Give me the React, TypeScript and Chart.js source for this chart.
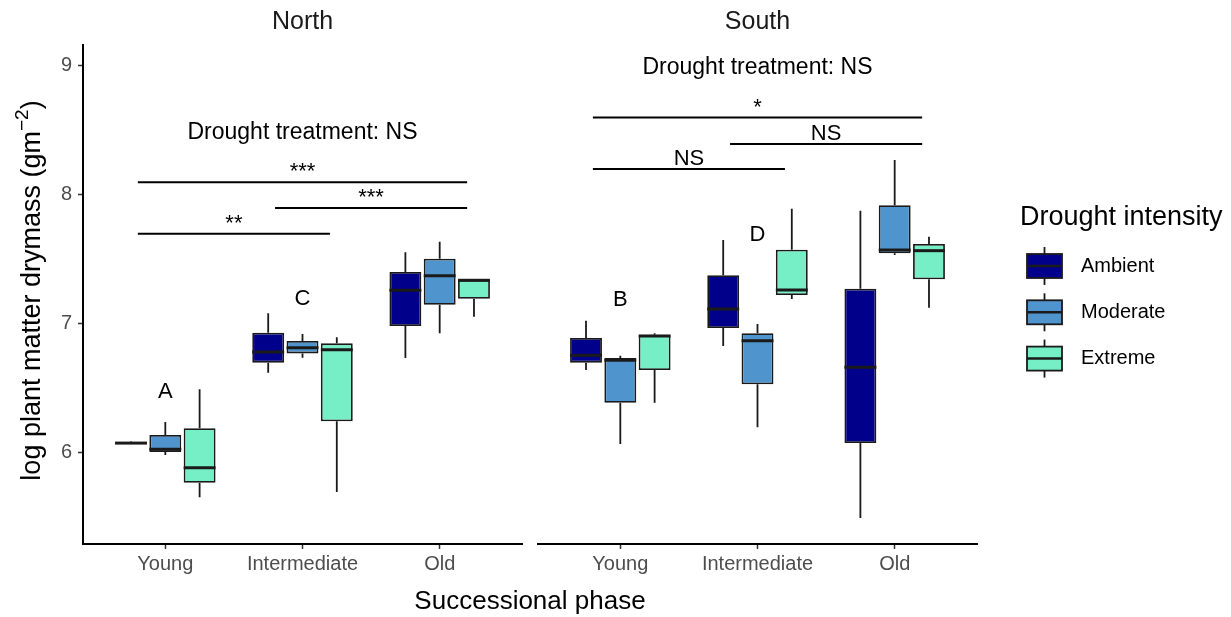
import React, { useEffect, useRef } from 'react';
import { Chart, registerables } from 'chart.js';

Chart.register(...registerables);

const FONT = '"Liberation Sans", Arial, Helvetica, sans-serif';

// ---------------- data ----------------
const categories = ['Young', 'Intermediate', 'Old'];
const intensities = ['Ambient', 'Moderate', 'Extreme'];
const intensityColors = ['#00008B', '#4F94CD', '#76EEC6'];

// each entry: [lower whisker, Q1, median, Q3, upper whisker] for Young, Intermediate, Old
const northAmbient = [
  [6.063, 6.065, 6.07, 6.075, 6.082],
  [6.617, 6.695, 6.778, 6.928, 7.078],
  [6.731, 6.98, 7.257, 7.399, 7.552],
];
const northModerate = [
  [5.977, 6.0, 6.022, 6.133, 6.234],
  [6.734, 6.767, 6.811, 6.863, 6.918],
  [6.923, 7.145, 7.371, 7.503, 7.635],
];
const northExtreme = [
  [5.649, 5.762, 5.879, 6.185, 6.488],
  [5.69, 6.239, 6.796, 6.845, 6.892],
  [7.052, 7.192, 7.335, 7.337, 7.337],
];
const southAmbient = [
  [6.638, 6.695, 6.752, 6.887, 7.021],
  [6.824, 6.964, 7.112, 7.374, 7.648],
  [5.488, 6.071, 6.659, 7.27, 7.876],
];
const southModerate = [
  [6.063, 6.384, 6.713, 6.731, 6.749],
  [6.193, 6.527, 6.866, 6.923, 6.995],
  [7.531, 7.545, 7.57, 7.918, 8.27],
];
const southExtreme = [
  [6.384, 6.638, 6.902, 6.912, 6.923],
  [7.19, 7.221, 7.26, 7.573, 7.891],
  [7.122, 7.343, 7.565, 7.617, 7.674],
];

const yTicks = [6, 7, 8, 9];
const yMin = 5.286;
const yMax = 9.163;

// significance brackets: [from category, to category, y value, label]
const northBrackets: [number, number, number, string][] = [
  [1, 3, 8.096, '***'],
  [2, 3, 7.897, '***'],
  [1, 2, 7.697, '**'],
];
const southBrackets: [number, number, number, string][] = [
  [1, 3, 8.599, '*'],
  [2, 3, 8.394, 'NS'],
  [1, 2, 8.2, 'NS'],
];
// group letters: [category, y value, letter]
const northLetters: [number, number, string][] = [
  [1, 6.467, 'A'],
  [2, 7.19, 'C'],
];
const southLetters: [number, number, string][] = [
  [1, 7.18, 'B'],
  [2, 7.687, 'D'],
];
// "Drought treatment: NS" labels: [category, y value, text]
const northTreatment: [number, number, string] = [2, 8.485, 'Drought treatment: NS'];
const southTreatment: [number, number, string] = [2, 8.984, 'Drought treatment: NS'];

const facetNames = ['North', 'South'];
const xTitle = 'Successional phase';
const yTitleMain = 'log plant matter drymass (gm';
const yTitleSup = '\u22122';
const legendTitle = 'Drought intensity';

// ---------------- chart building ----------------
const EDGE = '#1a1a1a';

function buildConfig(
  facet: number,
  series: number[][][],
  brackets: [number, number, number, string][],
  letters: [number, number, string][],
  treatment: [number, number, string]
): any {
  const isNorth = facet === 0;
  const datasets = series.map((s, di) => ({
    label: intensities[di],
    data: s.map((q, i) => ({ x: i + 1, y: [q[1], q[3]] })),
    backgroundColor: intensityColors[di],
    borderColor: EDGE,
    borderWidth: 1.8,
    borderSkipped: false,
    categoryPercentage: 0.75,
    barPercentage: 0.93,
  }));

  const plugin = {
    id: 'boxplotExtras' + facet,
    beforeDatasetsDraw(chart: any) {
      const ctx = chart.ctx;
      const ys = chart.scales.y;
      ctx.save();
      ctx.strokeStyle = EDGE;
      ctx.lineWidth = 1.8;
      series.forEach((s, di) => {
        const meta = chart.getDatasetMeta(di);
        meta.data.forEach((el: any, i: number) => {
          const [lo, q1, , q3, hi] = s[i];
          ctx.beginPath();
          ctx.moveTo(el.x, ys.getPixelForValue(lo));
          ctx.lineTo(el.x, ys.getPixelForValue(q1));
          ctx.moveTo(el.x, ys.getPixelForValue(q3));
          ctx.lineTo(el.x, ys.getPixelForValue(hi));
          ctx.stroke();
        });
      });
      ctx.restore();
    },
    afterDatasetsDraw(chart: any) {
      const ctx = chart.ctx;
      const ys = chart.scales.y;
      ctx.save();
      ctx.strokeStyle = EDGE;
      ctx.lineWidth = 3;
      series.forEach((s, di) => {
        const meta = chart.getDatasetMeta(di);
        meta.data.forEach((el: any, i: number) => {
          const m = ys.getPixelForValue(s[i][2]);
          ctx.beginPath();
          ctx.moveTo(el.x - el.width / 2, m);
          ctx.lineTo(el.x + el.width / 2, m);
          ctx.stroke();
        });
      });
      ctx.restore();
    },
    afterDraw(chart: any) {
      const ctx = chart.ctx;
      const xs = chart.scales.x;
      const ys = chart.scales.y;
      const area = chart.chartArea;
      ctx.save();
      ctx.fillStyle = '#000';
      ctx.textAlign = 'center';

      // facet title
      ctx.font = `25px ${FONT}`;
      ctx.fillStyle = '#1a1a1a';
      ctx.textBaseline = 'middle';
      ctx.fillText(facetNames[facet], (area.left + area.right) / 2, 22);

      // treatment label
      ctx.fillStyle = '#000';
      ctx.font = `23px ${FONT}`;
      ctx.fillText(treatment[2], xs.getPixelForValue(treatment[0]), ys.getPixelForValue(treatment[1]));

      // letters
      ctx.font = `22px ${FONT}`;
      letters.forEach(([c, v, t]) => {
        ctx.fillText(t, xs.getPixelForValue(c), ys.getPixelForValue(v));
      });

      // brackets
      ctx.strokeStyle = '#000';
      ctx.lineWidth = 2;
      ctx.textBaseline = 'alphabetic';
      brackets.forEach(([a, b, v, t]) => {
        const x1 = xs.getPixelForValue(a - 0.2);
        const x2 = xs.getPixelForValue(b + 0.2);
        const py = ys.getPixelForValue(v);
        ctx.beginPath();
        ctx.moveTo(x1, py);
        ctx.lineTo(x2, py);
        ctx.stroke();
        ctx.font = `22px ${FONT}`;
        ctx.fillText(t, (x1 + x2) / 2, py - 4);
      });

      if (isNorth) {
        // x-axis title across both facets
        ctx.font = `26px ${FONT}`;
        ctx.textBaseline = 'middle';
        ctx.fillText(xTitle, 530, 602);

        // y-axis title with superscript
        const cy = (area.top + area.bottom) / 2 - 4;
        ctx.translate(33, cy);
        ctx.rotate(-Math.PI / 2);
        ctx.font = `27px ${FONT}`;
        const w1 = ctx.measureText(yTitleMain).width;
        const w3 = ctx.measureText(')').width;
        ctx.font = `19px ${FONT}`;
        const w2 = ctx.measureText(yTitleSup).width;
        let x0 = -(w1 + w2 + w3) / 2;
        ctx.textAlign = 'left';
        ctx.textBaseline = 'middle';
        ctx.font = `27px ${FONT}`;
        ctx.fillText(yTitleMain, x0, 0);
        x0 += w1;
        ctx.font = `19px ${FONT}`;
        ctx.fillText(yTitleSup, x0, -10);
        x0 += w2;
        ctx.font = `27px ${FONT}`;
        ctx.fillText(')', x0, 0);
      } else {
        // legend
        ctx.textAlign = 'left';
        ctx.textBaseline = 'middle';
        ctx.font = `27px ${FONT}`;
        ctx.fillText(legendTitle, 1020, 218);
        intensities.forEach((name, i) => {
          const cy = 266 + i * 46.3;
          const left = 1027;
          const w = 35;
          const h = 24;
          const cx = left + w / 2;
          ctx.strokeStyle = EDGE;
          ctx.lineWidth = 1.8;
          ctx.beginPath();
          ctx.moveTo(cx, cy - h / 2 - 7);
          ctx.lineTo(cx, cy + h / 2 + 7);
          ctx.stroke();
          ctx.fillStyle = intensityColors[i];
          ctx.fillRect(left, cy - h / 2, w, h);
          ctx.lineWidth = 1.8;
          ctx.strokeRect(left, cy - h / 2, w, h);
          ctx.lineWidth = 2.5;
          ctx.beginPath();
          ctx.moveTo(left, cy);
          ctx.lineTo(left + w, cy);
          ctx.stroke();
          ctx.fillStyle = '#000';
          ctx.font = `20px ${FONT}`;
          ctx.fillText(name, 1081, cy);
        });
      }
      ctx.restore();
    },
  };

  const padding = isNorth
    ? { left: 0, top: 45, right: 1231 - 522, bottom: 0 }
    : { left: 538, top: 45, right: 1231 - 977, bottom: 0 };

  return {
    type: 'bar',
    data: { datasets },
    plugins: [plugin],
    options: {
      responsive: false,
      animation: false,
      events: [],
      devicePixelRatio: 1,
      layout: { padding },
      plugins: {
        legend: { display: false },
        tooltip: { enabled: false },
        title: { display: false },
      },
      scales: {
        x: {
          type: 'linear',
          min: 0.4,
          max: 3.6,
          offset: false,
          afterBuildTicks: (axis: any) => {
            axis.ticks = categories.map((_, i) => ({ value: i + 1 }));
          },
          afterFit: (scale: any) => {
            scale.height = 617 - 544;
          },
          ticks: {
            callback: (_v: any, i: number) => categories[i],
            color: '#4d4d4d',
            font: { size: 20, family: FONT },
            padding: 3,
            maxRotation: 0,
            autoSkip: false,
          },
          grid: {
            display: true,
            offset: false,
            drawOnChartArea: false,
            drawTicks: true,
            tickLength: 5,
            tickColor: '#333',
            tickWidth: 1.5,
          },
          border: { display: true, color: '#000', width: 2 },
        },
        y: {
          type: 'linear',
          display: isNorth,
          min: yMin,
          max: yMax,
          beginAtZero: false,
          afterBuildTicks: (axis: any) => {
            axis.ticks = yTicks.map((v) => ({ value: v }));
          },
          afterFit: (scale: any) => {
            scale.width = isNorth ? 83 : 0;
          },
          ticks: {
            color: '#4d4d4d',
            font: { size: 20, family: FONT },
            padding: 6,
          },
          grid: {
            display: true,
            drawOnChartArea: false,
            drawTicks: true,
            tickLength: 5,
            tickColor: '#333',
            tickWidth: 1.5,
          },
          border: { display: true, color: '#000', width: 2 },
        },
      },
    },
  };
}

export default function App() {
  const northRef = useRef<HTMLCanvasElement>(null);
  const southRef = useRef<HTMLCanvasElement>(null);

  useEffect(() => {
    const charts: Chart[] = [];
    if (northRef.current) {
      charts.push(
        new Chart(
          northRef.current,
          buildConfig(0, [northAmbient, northModerate, northExtreme], northBrackets, northLetters, northTreatment)
        )
      );
    }
    if (southRef.current) {
      charts.push(
        new Chart(
          southRef.current,
          buildConfig(1, [southAmbient, southModerate, southExtreme], southBrackets, southLetters, southTreatment)
        )
      );
    }
    return () => charts.forEach((c) => c.destroy());
  }, []);

  return (
    <div style={{ position: 'absolute', left: 0, top: 0, width: 1231, height: 617, background: '#fff' }}>
      <canvas ref={northRef} width={1231} height={617} style={{ position: 'absolute', left: 0, top: 0 }} />
      <canvas ref={southRef} width={1231} height={617} style={{ position: 'absolute', left: 0, top: 0 }} />
    </div>
  );
}
